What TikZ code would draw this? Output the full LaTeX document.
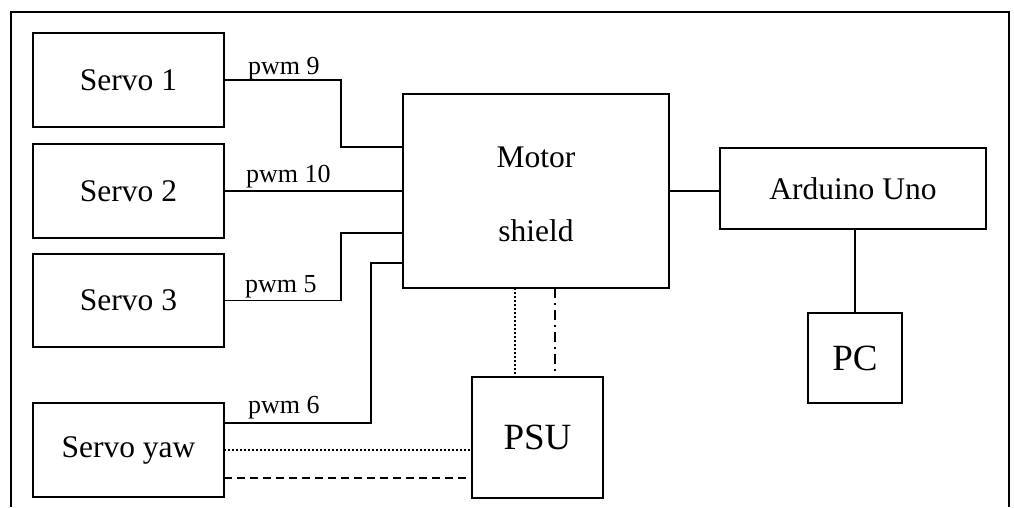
\documentclass[tikz,border=0pt]{standalone}
\usepackage{fontspec}
\setmainfont{Liberation Serif}
\begin{document}
\begin{tikzpicture}[x=1pt,y=-1pt,
  box/.style={draw,rectangle,line width=1.6pt,inner sep=0pt,outer sep=0pt,font=\fontsize{31.5}{36}\selectfont},
  big/.style={font=\fontsize{37}{42}\selectfont},
  wire/.style={line width=1.5pt},
  pwm/.style={anchor=base west,inner sep=0pt,font=\fontsize{26}{30}\selectfont},
  lbl/.style={anchor=base,inner sep=0pt,font=\fontsize{31.5}{36}\selectfont},
  dotwire/.style={wire,line width=2pt,dash pattern=on 2pt off 2pt},
  dashwire/.style={wire,dash pattern=on 8pt off 5pt},
  dashdotwire/.style={wire,dash pattern=on 10pt off 5pt on 2pt off 5pt}]
\useasboundingbox (0,0) rectangle (1014,507);
\draw[line width=1.7pt] (11,507) -- (11,12) -- (1009,12) -- (1009,507);

\node[box,minimum width=191pt,minimum height=94pt] (s1) at (128.5,80) {Servo 1};
\node[box,minimum width=191pt,minimum height=94pt] (s2) at (128.5,191) {Servo 2};
\node[box,minimum width=191pt,minimum height=93pt] (s3) at (128.5,300.5) {Servo 3};
\node[box,minimum width=191pt,minimum height=94pt] (sy) at (128.5,450) {Servo yaw};
\node[box,minimum width=266pt,minimum height=194pt] (ms) at (536,191) {};
\node[lbl] (mt) at (536,167) {Motor};
\node[lbl] (mt2) at (536,241) {shield};
\node[box,minimum width=266pt,minimum height=81pt] (ard) at (853,188.5) {Arduino Uno};
\node[box,big,minimum width=94pt,minimum height=90pt] (pc) at (855,358) {PC};
\node[box,big,minimum width=131pt,minimum height=121pt] (psu) at (537.5,437.5) {PSU};

\coordinate (j9) at (341,147);
\coordinate (j5) at (341,233);
\coordinate (j6) at (371,263);
\draw[wire] (s1.east) -| (j9) -- (j9 -| ms.west);
\draw[wire] (s2.east) -- (s2.east -| ms.west);
\draw[wire] (s3.east) -| (j5) -- (j5 -| ms.west);
\draw[wire] ([yshift=27pt]sy.east) -| (j6) -- (j6 -| ms.west);
\draw[dotwire] (sy.east) -- (sy.east -| psu.west);
\draw[dashwire] ([yshift=-28pt]sy.east) -- ([yshift=-28pt]sy.east -| psu.west);
\coordinate (d1) at (515,0);
\coordinate (d2) at (555,0);
\draw[dotwire] (d1 |- ms.south) -- (d1 |- psu.north);
\draw[dashdotwire] (d2 |- ms.south) -- (d2 |- psu.north);
\draw[wire] (ms.east) -- (ms.east -| ard.west);
\draw[wire] (pc.north) -- (pc.north |- ard.south);

\node[pwm] (l9) at (248,74) {pwm 9};
\node[pwm] (l10) at (246,182) {pwm 10};
\node[pwm] (l5) at (245,292) {pwm 5};
\node[pwm] (l6) at (248,413) {pwm 6};
\end{tikzpicture}
\end{document}
